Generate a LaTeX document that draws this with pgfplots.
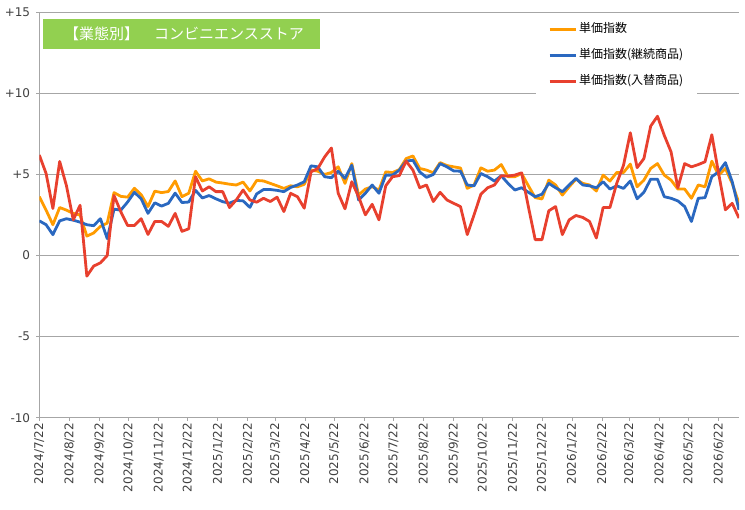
\documentclass[border=0pt]{standalone}
\usepackage{pgfplots}
\pgfplotsset{compat=1.18}
\usepackage{pgfplotstable}
\usepackage{fontspec}
\setmainfont{DejaVu Sans}
\newfontfamily\jp{Noto Sans CJK JP}
\definecolor{cO}{HTML}{FF9B00}
\definecolor{cB}{HTML}{2A68C0}
\definecolor{cR}{HTML}{E8402E}
\definecolor{cG}{HTML}{92D050}
\definecolor{cGrid}{HTML}{A6A6A6}
\definecolor{cTxt}{HTML}{404040}

\pgfplotstableread{
d o b r
0 3.63 2.14 6.20
7 2.80 1.90 5.06
14 1.90 1.29 2.90
21 2.96 2.14 5.80
28 2.80 2.27 4.30
35 2.60 2.18 2.20
42 2.50 2.06 3.10
49 1.20 1.90 -1.27
56 1.39 1.84 -0.65
63 1.80 2.27 -0.45
70 2.00 1.04 0.00
77 3.88 2.86 3.70
84 3.65 2.80 2.70
91 3.60 3.30 1.85
98 4.15 3.90 1.85
105 3.75 3.50 2.27
112 3.02 2.60 1.30
119 3.97 3.25 2.10
126 3.88 3.05 2.10
133 3.95 3.22 1.80
140 4.60 3.85 2.60
147 3.63 3.27 1.49
154 3.84 3.30 1.65
161 5.20 4.02 4.86
168 4.60 3.55 3.98
175 4.73 3.70 4.24
182 4.53 3.50 3.94
189 4.47 3.32 3.94
196 4.40 3.23 2.96
203 4.35 3.40 3.43
210 4.53 3.37 4.04
217 3.98 2.97 3.43
224 4.63 3.80 3.29
231 4.60 4.07 3.53
238 4.45 4.07 3.33
245 4.30 4.02 3.60
252 4.14 3.94 2.71
259 4.30 4.20 3.84
266 4.24 4.35 3.63
273 4.39 4.55 2.92
280 5.27 5.53 5.16
287 5.20 5.47 5.37
294 5.00 4.86 6.08
301 5.12 4.80 6.63
308 5.47 5.20 3.84
315 4.45 4.76 2.88
322 5.67 5.57 4.55
329 3.73 3.43 3.63
336 4.10 3.84 2.51
343 4.24 4.35 3.16
350 4.04 3.84 2.20
357 5.16 4.96 4.30
364 5.12 4.96 4.86
371 5.30 5.27 4.93
378 5.98 5.82 5.82
385 6.14 5.88 5.27
392 5.37 5.16 4.18
399 5.27 4.82 4.35
406 5.10 5.00 3.33
413 5.73 5.67 3.90
420 5.55 5.47 3.43
427 5.47 5.22 3.22
434 5.40 5.20 3.02
441 4.14 4.35 1.29
448 4.35 4.30 2.51
455 5.41 5.06 3.78
462 5.20 4.86 4.18
469 5.27 4.59 4.35
476 5.61 4.92 4.92
483 4.86 4.45 4.90
490 4.86 4.04 4.96
497 5.06 4.18 5.10
504 4.30 3.90 3.00
511 3.57 3.63 0.98
518 3.49 3.78 0.98
525 4.65 4.45 2.76
532 4.35 4.18 3.02
539 3.73 3.94 1.29
546 4.24 4.35 2.20
553 4.71 4.76 2.47
560 4.45 4.35 2.35
567 4.35 4.30 2.10
574 3.98 4.18 1.08
581 4.96 4.55 2.96
588 4.59 4.10 2.96
595 5.12 4.30 4.45
602 5.12 4.14 5.57
609 5.64 4.60 7.57
616 4.24 3.50 5.42
623 4.65 3.90 5.98
630 5.37 4.71 7.98
637 5.67 4.71 8.59
644 4.96 3.63 7.41
651 4.65 3.53 6.39
658 4.10 3.37 4.18
665 4.10 3.02 5.67
672 3.53 2.10 5.47
679 4.35 3.53 5.61
686 4.24 3.57 5.78
693 5.82 4.86 7.45
700 4.96 5.16 5.06
707 5.37 5.73 2.82
714 4.45 4.55 3.22
721 3.22 2.82 2.31
}\data

\begin{document}
\begin{tikzpicture}
\useasboundingbox (0,0) rectangle (745bp,510bp);
\begin{axis}[
  at={(39.3bp,92.3bp)}, anchor=south west,
  scale only axis, width=699.7bp, height=405.4bp,
  xmin=0, xmax=721, ymin=-10, ymax=15,
  axis x line*=bottom, axis y line*=left,
  axis line style={draw=cGrid, line width=1bp, -},
  ytick={-10,-5,0,5,10,15},
  yticklabels={-10,-5,0,+5,+10,+15},
  xtick={0,31,62,92,123,153,184,215,243,274,304,335,365,396,427,457,488,518,549,580,608,639,669,700},
  xticklabels={2024/7/22,2024/8/22,2024/9/22,2024/10/22,2024/11/22,2024/12/22,2025/1/22,2025/2/22,2025/3/22,2025/4/22,2025/5/22,2025/6/22,2025/7/22,2025/8/22,2025/9/22,2025/10/22,2025/11/22,2025/12/22,2026/1/22,2026/2/22,2026/3/22,2026/4/22,2026/5/22,2026/6/22},
  tick align=outside, major tick length=3bp,
  tick style={draw=cGrid, line width=1bp},
  ymajorgrids, major grid style={draw=cGrid, line width=1bp},
  ticklabel style={font=\fontsize{12bp}{14bp}\selectfont, text=cTxt},
  xticklabel style={rotate=90, anchor=east, inner sep=2bp},
  yticklabel style={anchor=east, inner sep=0bp, xshift=-6bp},
  legend style={at={(rel axis cs:0.71,0.9955)}, anchor=north west,
    draw=none, fill=white, inner xsep=12bp, inner ysep=6.3bp,
    font=\jp\fontsize{12bp}{14bp}\selectfont, text=black,
    row sep=7.8bp,
    nodes={text height=10bp, text depth=4bp, inner sep=2bp}},
  legend cell align=left,
  legend image code/.code={\path (0bp,0bp) -- (26bp,0bp);\draw[#1, line width=3bp] (0bp,0bp) -- (23bp,0bp);},
  every axis plot/.append style={line width=2.8bp, line join=round},
]
\addplot[cO] table[x=d, y=o] {\data};
\addlegendentry{単価指数}
\addplot[cB] table[x=d, y=b] {\data};
\addlegendentry{単価指数(継続商品)}
\addplot[cR] table[x=d, y=r] {\data};
\addlegendentry{単価指数(入替商品)}
\end{axis}
\fill[cG] (43bp,461bp) rectangle (320bp,491bp);
\node[text=white, font=\jp\fontsize{15bp}{18bp}\selectfont, inner sep=0pt] at (184bp,476bp) {【業態別】　コンビニエンスストア};
\end{tikzpicture}
\end{document}
